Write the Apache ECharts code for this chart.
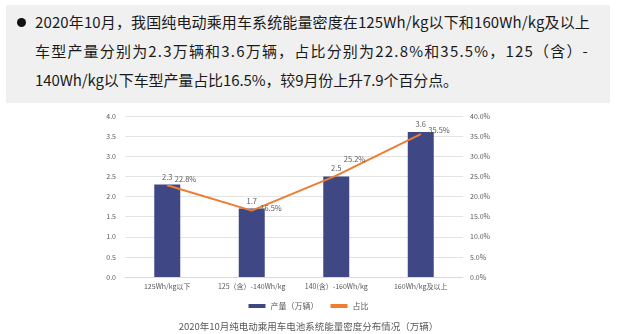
<!DOCTYPE html>
<html>
<head>
<meta charset="utf-8">
<script src="https://cdn.jsdelivr.net/npm/echarts@6/dist/echarts.min.js"></script>
<style>
  html, body { margin: 0; padding: 0; background: #ffffff; }
  #page { position: relative; width: 617px; height: 334px; overflow: hidden; font-family: "Noto Sans CJK SC", "Noto Sans", sans-serif; }
  #note { position: absolute; left: 6px; top: 5px; width: 604px; height: 98px; background: #f0f0f0; }
  .dot { position: absolute; left: 11px; top: 13px; width: 9px; height: 9px; border-radius: 50%; background: #111; }
  .ln { position: absolute; left: 29px; white-space: nowrap; font-size: 15px; line-height: 18px; color: #1a1a1a; }
  #chart { position: absolute; left: 0; top: 0; width: 617px; height: 334px; }
</style>
</head>
<body>
<div id="page">
  <div id="note">
    <div class="dot"></div>
    <div class="ln" style="top:8px" data-end="590">2020年10月，我国纯电动乘用车系统能量密度在125Wh/kg以下和160Wh/kg及以上</div>
    <div class="ln" style="top:37px" data-end="589">车型产量分别为2.3万辆和3.6万辆，占比分别为22.8%和35.5%，125（含）-</div>
    <div class="ln" style="top:66px" data-end="458">140Wh/kg以下车型产量占比16.5%，较9月份上升7.9个百分点。</div>
  </div>
  <div id="chart"></div>
</div>
<script>
// Spread each paragraph line so it ends at its right margin
document.querySelectorAll('.ln').forEach(el => {
  const end = +el.dataset.end;
  const left = el.offsetLeft + el.parentNode.offsetLeft;
  const n = el.textContent.length;
  const extra = end - (left + el.getBoundingClientRect().width);
  el.style.letterSpacing = (extra / n) + 'px';
});

// Energy-density bands of battery systems in October 2020
const categories = ['125Wh/kg以下', '125（含）-140Wh/kg', '140(含）-160Wh/kg', '160Wh/kg及以上'];
// Production, 10k vehicles
const output = [2.3, 1.7, 2.5, 3.6];
// Share of production, %
const share = [22.8, 16.5, 25.2, 35.5];
// Label shifts for the share line
const shareLabelShift = [[3, -6], [4, -2], [3, -16], [3, -4]];

const chart = echarts.init(document.getElementById('chart'), null, { renderer: 'canvas' });
const font = '"Noto Sans CJK SC", "Noto Sans", sans-serif';
const grey = '#595959';

chart.setOption({
  animation: false,
  textStyle: { fontFamily: font },
  title: {
    text: '2020年10月纯电动乘用车电池系统能量密度分布情况（万辆）',
    left: 'center',
    top: 317,
    textStyle: { fontSize: 9.5, fontWeight: 'normal', color: grey, fontFamily: font }
  },
  legend: {
    top: 297,
    left: 'center',
    itemWidth: 17,
    itemHeight: 4,
    itemGap: 12,
    textStyle: { fontSize: 8, color: grey, fontFamily: font },
    data: [
      { name: '产量（万辆）', icon: 'rect' },
      { name: '占比', icon: 'rect' }
    ]
  },
  grid: { left: 125, right: 154, top: 116, bottom: 57 },
  xAxis: {
    type: 'category',
    data: categories,
    axisLine: { show: true, lineStyle: { color: '#d9d9d9' } },
    axisTick: { show: false },
    axisLabel: { fontSize: 7, color: grey, margin: 6, interval: 0 }
  },
  yAxis: [
    {
      type: 'value', min: 0, max: 4, interval: 0.5,
      axisLine: { show: false }, axisTick: { show: false },
      axisLabel: { fontSize: 7, color: grey, margin: 9, formatter: v => v.toFixed(1) },
      splitLine: { lineStyle: { color: '#e3e3e3' } }
    },
    {
      type: 'value', min: 0, max: 40, interval: 5,
      axisLine: { show: false }, axisTick: { show: false },
      axisLabel: { fontSize: 7, color: grey, margin: 7, formatter: v => v.toFixed(1) + '%' },
      splitLine: { show: false }
    }
  ],
  series: [
    {
      name: '产量（万辆）',
      type: 'bar',
      data: output,
      barWidth: 26,
      itemStyle: { color: '#3f4885' },
      label: { show: true, position: 'top', distance: 4, fontSize: 7.5, color: grey, formatter: p => p.value.toFixed(1) }
    },
    {
      name: '占比',
      type: 'line',
      yAxisIndex: 1,
      data: share,
      symbol: 'circle',
      symbolSize: 1,
      showSymbol: true,
      lineStyle: { color: '#ed7d31', width: 2 },
      itemStyle: { color: '#ed7d31' },
      label: { show: true, position: 'right', distance: 4, fontSize: 7.5, color: grey, formatter: p => p.value.toFixed(1) + '%' },
      labelLayout: p => ({ dx: shareLabelShift[p.dataIndex][0], dy: shareLabelShift[p.dataIndex][1] }),
      z: 3
    }
  ]
});
</script>
</body>
</html>
